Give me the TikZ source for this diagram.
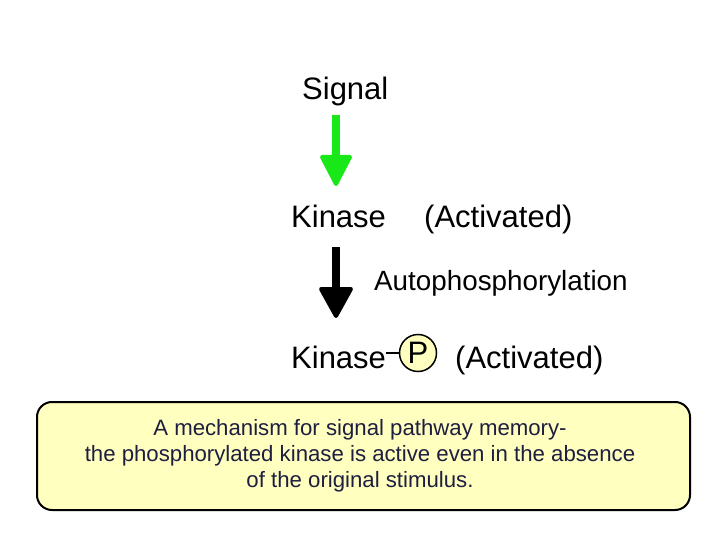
\documentclass[tikz,border=0pt]{standalone}
\usepackage{fontspec}
\setmainfont{Liberation Sans}
\usetikzlibrary{calc}
\definecolor{arrgreen}{RGB}{24,232,24}
\definecolor{boxfill}{RGB}{255,255,192}
\definecolor{boxtext}{RGB}{30,30,64}
\tikzset{
  bigtext/.style={inner sep=0pt, anchor=base west, font=\fontsize{31}{34}\selectfont},
  midtext/.style={inner sep=0pt, anchor=base west, font=\fontsize{27.8}{32}\selectfont},
  shaft/.style={line width=8pt},
  headshape/.style={line width=4pt, line join=round},
  memobox/.style={draw=black, line width=2pt, fill=boxfill, rounded corners=15pt},
  memotext/.style={inner sep=0pt, align=center, text=boxtext, font=\fontsize{22.2}{26}\selectfont},
  pcircle/.style={circle, draw=black, line width=1.5pt, fill=boxfill, minimum size=37pt, inner sep=0pt, font=\fontsize{31}{34}\selectfont}
}
\begin{document}
\begin{tikzpicture}[x=1pt,y=-1pt]
\useasboundingbox (0,0) rectangle (720,540);
% texts
\node[bigtext] (signal) at (302,100) {Signal};
\node[bigtext] (kin1) at (291,228) {Kinase};
\node[bigtext] (act1) at (424,228) {(Activated)};
\node[midtext] (auto) at (374,290) {Autophosphorylation};
\node[bigtext] (kin2) at (291,368) {Kinase};
\node[pcircle] (pc) at (418,353) {P};
\node[bigtext] (act2) at (455,368) {(Activated)};
\draw[line width=1.5pt] (kin2.east |- pc.west) -- (pc.west);
% green arrow
\coordinate (g1) at (336,115);
\coordinate (g2) at (336,188);
\draw[shaft, arrgreen] (g1) -- ($(g2)+(0,-30)$);
\filldraw[headshape, arrgreen] ($(g2)+(-14,-31)$) -- ($(g2)+(14,-31)$) -- ($(g2)+(0,-4)$) -- cycle;
% black arrow
\coordinate (b1) at (336,247);
\coordinate (b2) at (336,320);
\draw[shaft, black] (b1) -- ($(b2)+(0,-30)$);
\filldraw[headshape, black] ($(b2)+(-15,-31)$) -- ($(b2)+(15,-31)$) -- ($(b2)+(0,-4)$) -- cycle;
% box
\draw[memobox] (37,402) rectangle (690,510);
\node[memotext] (memo) at (360,456) {A mechanism for signal pathway memory-\\the phosphorylated kinase is active even in the absence\\of the original stimulus.};
\end{tikzpicture}
\end{document}
